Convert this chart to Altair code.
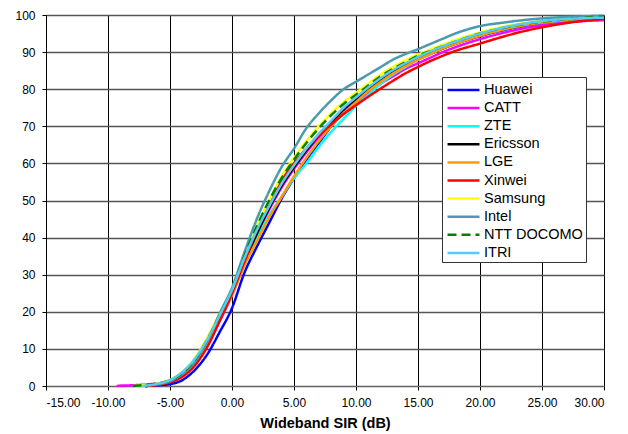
import altair as alt
import pandas as pd

names = ["Huawei", "CATT", "ZTE", "Ericsson", "LGE", "Xinwei", "Samsung", "Intel", "NTT DOCOMO", "ITRI"]
colors = ["#0000FF", "#FF00FF", "#00FFFF", "#000000", "#FF9900", "#FF0000", "#FFFF00", "#4A9AB0", "#008000", "#55CCF5"]
widths = [2.5, 2.5, 2.5, 2.5, 2.5, 2.5, 2.5, 3, 2.5, 4.5]
dashes = [[1, 0]] * 8 + [[9, 5]] + [[1, 0]]

X_MAIN = [-7, -6, -5, -4, -3, -2, -1, 0, 1, 2, 3, 4, 5, 6, 7, 8, 9, 10, 11, 12, 13, 14, 15, 16, 17, 18, 20, 22, 24, 26, 28, 30]

huawei_x = X_MAIN
huawei_y = [0, 0.2, 0.5, 1.6, 4.3, 8.5, 14.5, 21, 30.5, 37.5, 44, 50.5, 56, 61, 65.5, 70, 73.8, 76.8, 79.5, 82, 84.3, 86.3, 88, 89.5, 91, 92.2, 94.3, 96, 97.3, 98.2, 98.8, 99.2]

catt_x = [-9.3, -9, -8] + X_MAIN
catt_y = [0, 0.1, 0.2, 0.4, 0.7, 1.2, 2.8, 6, 11, 17.5, 24.5, 33, 40.5, 47.5, 53.5, 58.5, 63, 67, 70.5, 73.7, 76.5, 79, 81.5, 83.5, 85.5, 87, 88.5, 90, 91.3, 93.5, 95.3, 96.7, 97.7, 98.3, 98.6]

zte_x = X_MAIN
zte_y = [0, 0.6, 1.4, 3.3, 6.8, 12, 18.5, 25.5, 33.5, 40, 46, 51, 56, 60, 64.5, 68.5, 72, 75.5, 78.5, 81.5, 84, 86, 88, 89.5, 91, 92.3, 94.5, 96.2, 97.5, 98.3, 98.9, 99.2]

ericsson_x = X_MAIN
ericsson_y = [0, 0.4, 1.2, 3, 6.3, 11.5, 18, 25, 33.5, 41, 48, 54, 59, 63.5, 67.5, 71, 74.5, 77.5, 80, 82.5, 84.7, 86.5, 88.2, 89.7, 91, 92.3, 94.5, 96.3, 97.6, 98.5, 99.1, 99.5]

lge_x = X_MAIN
lge_y = [0, 0.4, 1.2, 3, 6.5, 11.5, 18, 24.5, 32.5, 39, 45.5, 51, 56.5, 61.5, 66, 70, 73.5, 76.5, 79.5, 82, 84.3, 86.2, 88, 89.5, 91, 92.2, 94.4, 96.2, 97.5, 98.4, 99, 99.4]

xinwei_x = X_MAIN
xinwei_y = [0, 0.3, 1, 2.5, 5.5, 10.5, 17.5, 25, 33.5, 42, 49.5, 55.5, 60, 64, 67.5, 70.5, 73.3, 75.7, 78, 80.2, 82.3, 84.3, 86, 87.6, 89, 90.3, 92.3, 94.3, 96, 97.3, 98.3, 99]

samsung_x = [-8] + X_MAIN
samsung_y = [0, 0.3, 0.7, 1.6, 3.8, 7.5, 13, 19.5, 26, 35, 43, 50, 56.5, 61.5, 66, 70, 73.5, 76.5, 79, 81.5, 84, 86, 87.8, 89.3, 90.7, 92, 93.2, 95.3, 96.9, 98, 98.8, 99.3, 99.7]

intel_x = X_MAIN
intel_y = [0.2, 0.5, 1.3, 3.2, 6.5, 12, 19.5, 26.5, 36, 45, 52.5, 59, 64, 69.5, 73.5, 77, 80, 82, 84, 86, 88, 89.5, 90.8, 92.2, 93.6, 95, 97, 98, 98.8, 99.3, 99.6, 99.8]

ntt_x = [-8] + X_MAIN
ntt_y = [0, 0.3, 0.7, 1.5, 3.5, 7, 12.5, 19, 26, 35, 43, 50, 56, 61, 65.5, 69.5, 73, 76, 78.5, 81, 83.5, 85.5, 87.3, 89, 90.3, 91.6, 92.8, 95, 96.6, 97.8, 98.6, 99.2, 99.6]

itri_x = [-7.3] + X_MAIN
itri_y = [0, 0.1, 0.6, 1.6, 3.8, 7.3, 12.5, 19, 26, 34.5, 42, 48.5, 54.5, 59.5, 64, 68, 71.5, 75, 77.8, 80.5, 83, 85.2, 87, 88.7, 90.2, 91.6, 92.8, 95, 96.7, 97.9, 98.7, 99.1, 99.3]

series_x = [huawei_x, catt_x, zte_x, ericsson_x, lge_x, xinwei_x, samsung_x, intel_x, ntt_x, itri_x]
series_y = [huawei_y, catt_y, zte_y, ericsson_y, lge_y, xinwei_y, samsung_y, intel_y, ntt_y, itri_y]

rows = []
for name, xs, ys in zip(names, series_x, series_y):
    for xv, yv in zip(xs, ys):
        rows.append({"series": name, "sir": xv, "cdf": yv})
df = pd.DataFrame(rows)

x_ticks = list(range(-15, 31, 5))
y_ticks = list(range(0, 101, 10))

legend = alt.Legend(
    title=None, orient="none", legendX=396, legendY=62,
    symbolType="M-0.83,0H2.72", symbolSize=324,
    labelFont="Liberation Sans", labelFontSize=14.5, labelColor="#000000",
    labelOffset=18.5, rowPadding=1.1, padding=2.5,
    strokeColor="#333333", fillColor="#FFFFFF",
)

color_enc = alt.Color("series:N", scale=alt.Scale(domain=names, range=colors), legend=legend)
dash_enc = alt.StrokeDash("series:N", scale=alt.Scale(domain=names, range=dashes), legend=legend)
width_enc = alt.StrokeWidth("series:N", scale=alt.Scale(domain=names, range=widths), legend=legend)

x_enc = alt.X("sir:Q", scale=alt.Scale(domain=[-15, 30], nice=False),
              axis=alt.Axis(values=x_ticks, format=".2f",
                            labelExpr="replace(datum.label, '\u2212', '-')",
                            title="Wideband SIR (dB)",
                            titleFont="Liberation Sans", titleFontSize=14.5, titleFontWeight="bold",
                            titleColor="#000000", titlePadding=8,
                            labelFont="Liberation Sans", labelFontSize=12, labelColor="#000000",
                            gridColor="#000000", gridOpacity=1, gridWidth=1,
                            domainColor="#666666", tickColor="#000000", tickSize=4, labelPadding=7))
y_enc = alt.Y("cdf:Q", scale=alt.Scale(domain=[0, 100], nice=False),
              axis=alt.Axis(values=y_ticks, title=None,
                            labelFont="Liberation Sans", labelFontSize=12, labelColor="#000000",
                            gridColor="#555555", gridOpacity=1, gridWidth=1.5,
                            domainColor="#000000", tickColor="#000000", tickSize=4, labelPadding=7))

layers = []
for name in names:
    layers.append(
        alt.Chart(df).transform_filter(alt.datum.series == name)
        .mark_line(interpolate="monotone", strokeCap="butt")
        .encode(x=x_enc, y=y_enc, color=color_enc, strokeDash=dash_enc, strokeWidth=width_enc,
                order=alt.Order("sir:Q"))
    )

chart = alt.layer(*layers).properties(
    width=558, height=371,
    autosize=alt.AutoSizeParams(type="none"),
    padding={"left": 46, "top": 15, "right": 24, "bottom": 48},
).configure_view(stroke="#555555", strokeWidth=1.5).configure(background="#FFFFFF")

chart.save("out.html", embed_options={"renderer": "svg", "actions": False})
